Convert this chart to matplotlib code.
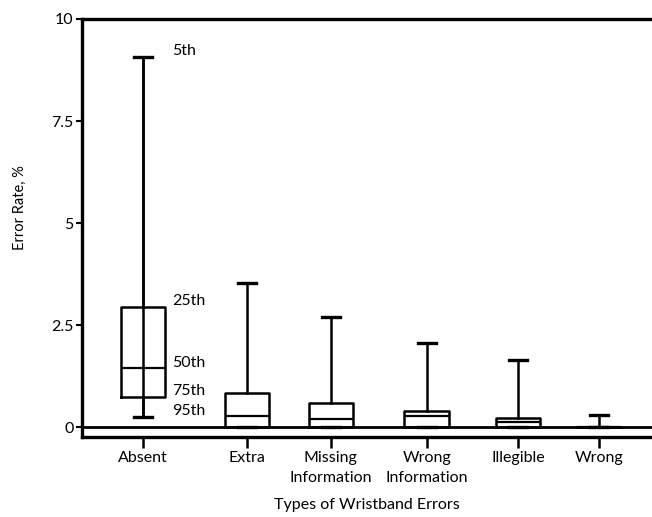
import matplotlib
matplotlib.use("Agg")
import matplotlib.pyplot as plt

plt.rcParams['font.family'] = ['Lato', 'DejaVu Sans']

# Box plot stats (error rate, %)
categories = ['Absent', 'Extra', 'Missing\nInformation', 'Wrong\nInformation', 'Illegible', 'Wrong']
whisker_hi = [9.07, 3.54, 2.69, 2.07, 1.64, 0.29]
box_hi = [2.95, 0.84, 0.60, 0.40, 0.21, 0.0]
median = [1.44, 0.28, 0.19, 0.27, 0.12, 0.0]
box_lo = [0.74, 0.0, 0.0, 0.0, 0.0, 0.0]
whisker_lo = [0.25, 0.0, 0.0, 0.0, 0.0, 0.0]

pct_labels = ['5th', '25th', '50th', '75th', '95th']
yticks = [0, 2.5, 5, 7.5, 10]
ytick_labels = ['0', '2.5', '5', '7.5', '10']

# layout: category centres (uneven spacing as in the original)
positions = [0, 1.14, 2.06, 3.11, 4.11, 5.0]

fig = plt.figure(figsize=(6.52, 5.17), dpi=100)
ax = fig.add_axes([82 / 652, 1 - 437 / 517, 1 - 82 / 652, (437 - 19) / 517])

stats = []
for i in range(len(categories)):
    stats.append({'whislo': whisker_lo[i], 'q1': box_lo[i], 'med': median[i],
                  'q3': box_hi[i], 'whishi': whisker_hi[i], 'label': categories[i]})

ax.bxp(stats, positions=positions, widths=0.49, showfliers=False,
       boxprops=dict(color='black', linewidth=1.8),
       medianprops=dict(color='black', linewidth=1.6),
       whiskerprops=dict(color='black', linewidth=1.8),
       capprops=dict(color='black', linewidth=2.4),
       capwidths=0.2, manage_ticks=False)

# whisker of the first box runs straight through the box
ax.vlines(positions[0], whisker_lo[0], whisker_hi[0], color='black', linewidth=1.8)

# zero line across the plot
ax.axhline(0, color='black', linewidth=2.0)

# percentile labels next to the first box
pct_vals = [whisker_hi[0], box_hi[0], median[0], box_lo[0], whisker_lo[0]]
for lab, v in zip(pct_labels, pct_vals):
    ax.annotate(lab, xy=(positions[0] + 0.32, v), xytext=(0, 4), textcoords='offset points',
                ha='left', va='center', fontsize=11.5)

ax.set_xlim(-0.669, 5.58)
ax.set_ylim(-0.245, 10)
ax.set_yticks(yticks)
ax.set_yticklabels(ytick_labels, fontsize=11.5)
ax.set_xticks(positions)
ax.set_xticklabels(categories, fontsize=11.5, linespacing=1.6)

ax.spines['right'].set_visible(False)
for s in ['left', 'top', 'bottom']:
    ax.spines[s].set_linewidth(2.4)
ax.tick_params(axis='y', length=4, width=1.5, pad=2)
ax.tick_params(axis='x', length=8, width=1.8, pad=2)

ax.set_xlabel('Types of Wristband Errors', fontsize=11.5, labelpad=9)
fig.text(20 / 652, 1 - 208 / 517, 'Error Rate, %', rotation=90, ha='center', va='center', fontsize=10.5)

fig.savefig('out.png', dpi=100)
